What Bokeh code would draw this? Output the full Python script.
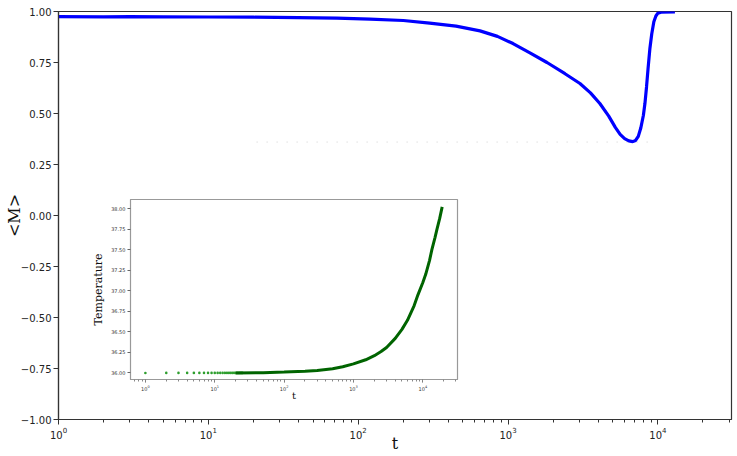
from bokeh.plotting import figure
from bokeh.models import FixedTicker, CustomJSTickFormatter, LogTicker
from bokeh.embed import file_html
from bokeh.resources import INLINE

# ---- main series: <M> vs t ----
t_M = [1, 2, 3, 5, 10, 20, 40, 72, 120, 200, 300, 450, 650, 850, 1080, 1400, 1820,
       2400, 3020, 3550, 4100, 4700, 5200, 5600, 6000, 6400, 6800, 7100, 7400,
       7700, 8000, 8200, 8400, 8600, 8850, 9100, 9400, 9700, 10000, 10500, 13000]
M = [0.975, 0.974, 0.975, 0.974, 0.973, 0.972, 0.970, 0.968, 0.963, 0.956, 0.943,
     0.928, 0.905, 0.878, 0.843, 0.797, 0.750, 0.695, 0.647, 0.601, 0.549, 0.487,
     0.432, 0.398, 0.377, 0.366, 0.362, 0.368, 0.388, 0.43, 0.49, 0.55, 0.63,
     0.72, 0.82, 0.89, 0.95, 0.978, 0.992, 0.997, 0.998]

# faint dotted guide seen in the picture
guide_t = [21, 9000]
guide_M = [0.36, 0.36]

y_ticks = [-1.0, -0.75, -0.5, -0.25, 0.0, 0.25, 0.5, 0.75, 1.0]

# ---- inset series: Temperature vs t ----
dots_t = [1, 2, 3, 4, 5, 6, 7, 8, 9, 10, 11, 12, 13, 14, 15, 16, 17, 18, 19, 20,
          21, 22, 23, 24, 25]
dots_T = [36.0] * len(dots_t)
t_T = [20, 50, 100, 200, 300, 500, 700, 1000, 1500, 2000, 2500, 3000, 4000, 5000,
       6000, 7500, 8500, 10000, 11000, 12500, 13500, 15000, 16000, 17500, 19000]
T = [36.0, 36.003, 36.01, 36.02, 36.03, 36.05, 36.075, 36.11, 36.16, 36.21,
     36.26, 36.31, 36.42, 36.53, 36.64, 36.82, 36.95, 37.1, 37.2, 37.37, 37.5,
     37.65, 37.75, 37.88, 38.02]
T_ticks = [36.0, 36.25, 36.5, 36.75, 37.0, 37.25, 37.5, 37.75, 38.0]

fmt = CustomJSTickFormatter(code="return tick.toFixed(2).replace('-', '\\u2212');")

p = figure(width=737, height=456, x_axis_type="log", x_range=(1, 3.1e4),
           y_range=(-1, 1), output_backend="svg", toolbar_location=None,
           min_border_left=58, min_border_top=11, min_border_right=6,
           min_border_bottom=37)
p.grid.visible = False
p.outline_line_color = "#333333"
p.outline_line_width = 1.2
p.background_fill_color = "white"

p.line(guide_t, guide_M, line_color="#cfcfcf", line_width=1, line_dash="1 9")
p.line(t_M, M, line_color="#0000ff", line_width=3.2)

p.yaxis.ticker = FixedTicker(ticks=y_ticks)
p.yaxis.formatter = fmt
p.xaxis.ticker = LogTicker(num_minor_ticks=10)
for ax in (p.xaxis[0], p.yaxis[0]):
    ax.axis_line_color = "#333333"
    ax.axis_line_width = 1.2
    ax.major_tick_in = 0
    ax.major_tick_out = 5
    ax.minor_tick_in = 0
    ax.minor_tick_out = 3
    ax.major_tick_line_color = "#333333"
    ax.minor_tick_line_color = "#333333"
    ax.major_label_text_font = "DejaVu Sans"
    ax.major_label_text_font_size = "10px"
    ax.major_label_text_color = "#222222"
    ax.major_label_standoff = 2
    ax.axis_label_text_font = "DejaVu Serif"
    ax.axis_label_text_font_style = "normal"
    ax.axis_label_text_font_size = "16px"
    ax.axis_label_text_color = "#111111"
p.yaxis.axis_label = "<M>"
p.yaxis.axis_label_standoff = -6
p.xaxis.axis_label = "t"
p.xaxis.axis_label_standoff = -8

# ---- inset ----
q = figure(width=372, height=208, x_axis_type="log", x_range=(0.61, 3.16e4),
           y_range=(35.92, 38.11), output_backend="svg", toolbar_location=None,
           min_border_left=38, min_border_top=4, min_border_right=4,
           min_border_bottom=20)
q.grid.visible = False
q.outline_line_color = "#999999"
q.outline_line_width = 1.2
q.background_fill_color = "white"
q.border_fill_color = "white"
q.border_fill_alpha = 0.0

q.scatter(dots_t, dots_T, size=2.6, color="#2e9e2e", line_color=None)
q.line(t_T, T, line_color="#006400", line_width=3)

q.yaxis.ticker = FixedTicker(ticks=T_ticks)
q.yaxis.formatter = fmt
q.xaxis.ticker = LogTicker(num_minor_ticks=10)
for ax in (q.xaxis[0], q.yaxis[0]):
    ax.axis_line_color = "#999999"
    ax.major_tick_in = 0
    ax.major_tick_out = 3
    ax.minor_tick_in = 0
    ax.minor_tick_out = 2
    ax.major_tick_line_color = "#666666"
    ax.minor_tick_line_color = "#888888"
    ax.major_label_text_font = "DejaVu Sans"
    ax.major_label_text_font_size = "5px"
    ax.major_label_text_color = "#333333"
    ax.major_label_standoff = 2
    ax.axis_label_text_font = "DejaVu Serif"
    ax.axis_label_text_font_style = "normal"
    ax.axis_label_text_color = "#111111"
q.yaxis.axis_label = "Temperature"
q.yaxis.axis_label_text_font_size = "11px"
q.yaxis.axis_label_standoff = 3
q.xaxis.axis_label = "t"
q.xaxis.axis_label_text_font_size = "10px"
q.xaxis.axis_label_standoff = -4

q.styles = {"position": "absolute", "left": "89px", "top": "195px"}

open("out.html", "w").write(file_html([p, q], INLINE))
